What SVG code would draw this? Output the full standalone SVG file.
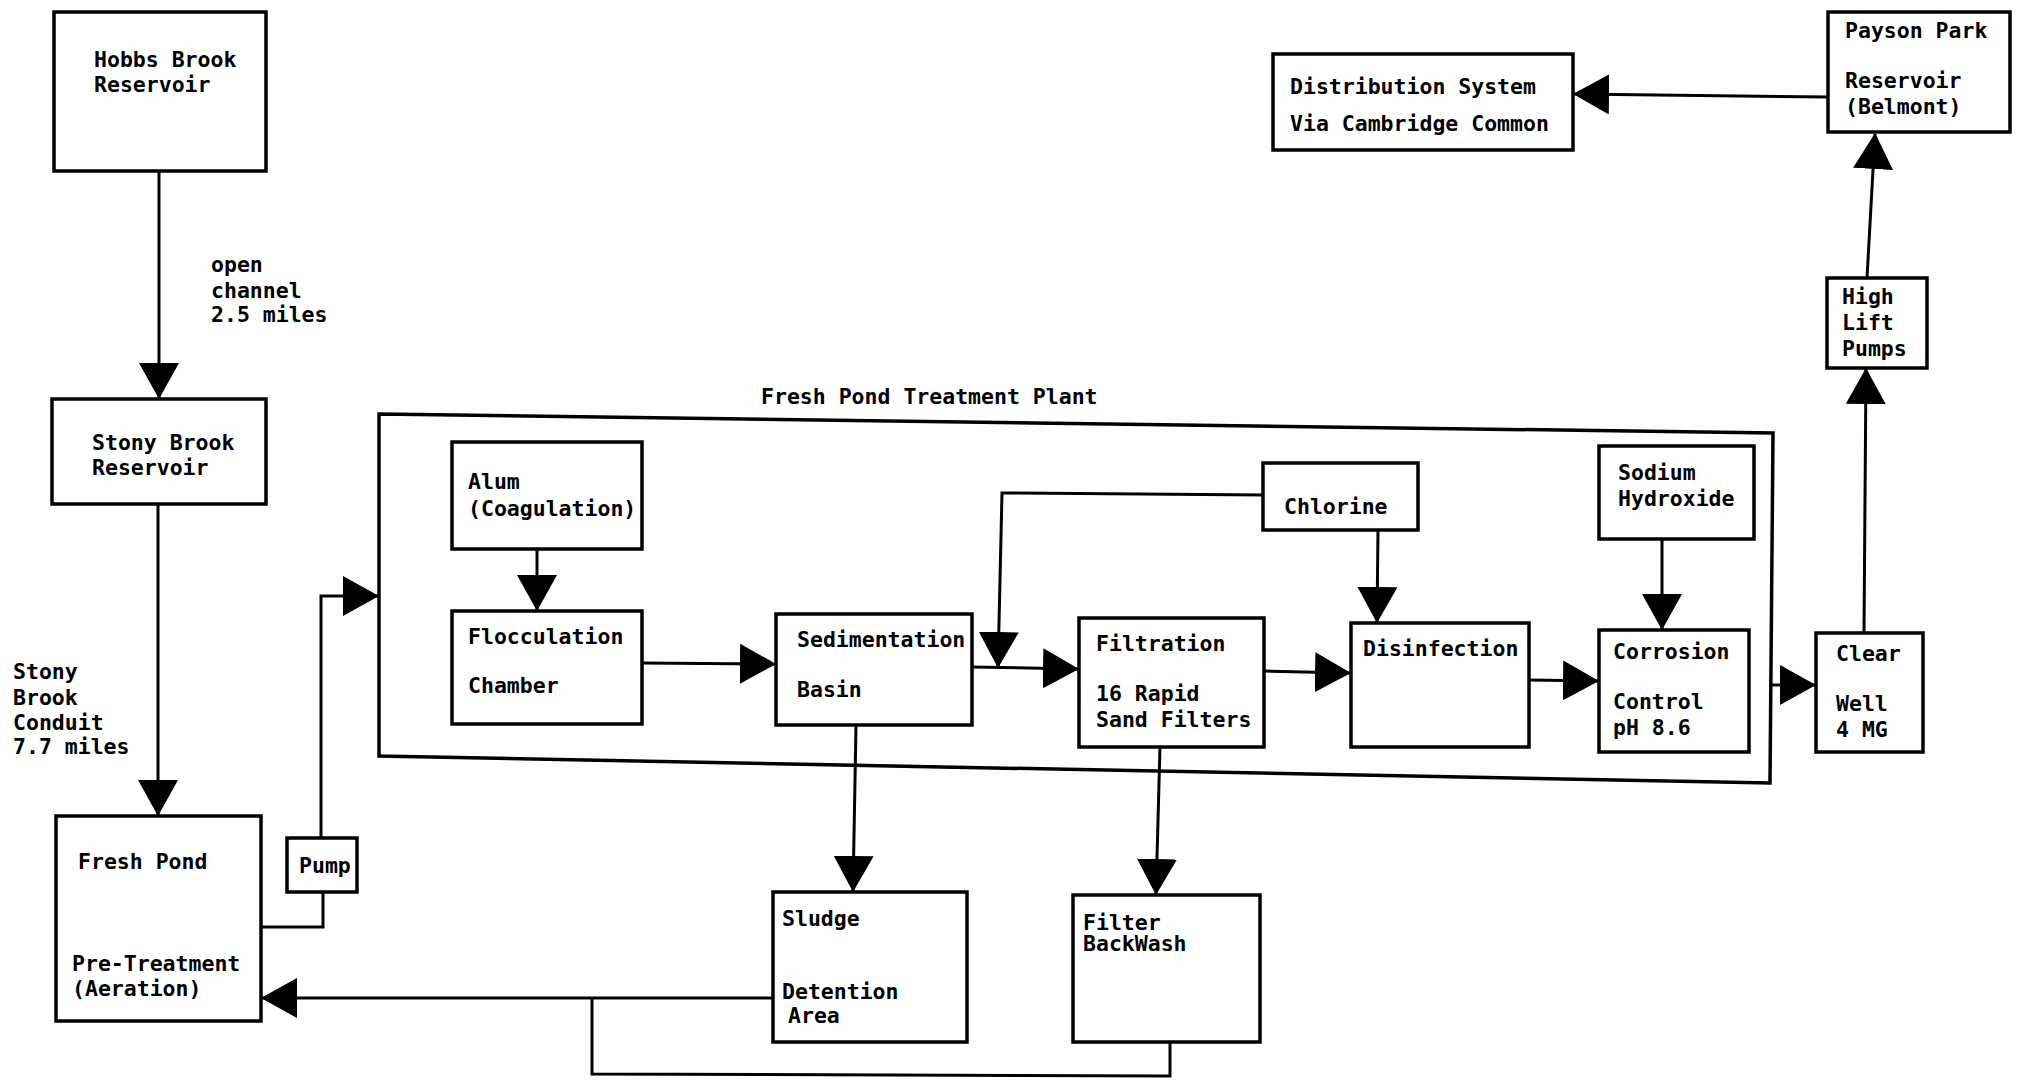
<svg xmlns="http://www.w3.org/2000/svg" width="2027" height="1081" viewBox="0 0 2027 1081">
<style>
.box{fill:#fff;stroke:#000;stroke-width:3.5}
.ln{fill:none;stroke:#000;stroke-width:3;marker-end:url(#ah)}
.ln0{fill:none;stroke:#000;stroke-width:3}
text{font-family:"DejaVu Sans Mono","Liberation Mono",monospace;font-size:21.5px;font-weight:bold;fill:#000}
</style>
<defs>
<marker id="ah" viewBox="0 0 36 40" refX="35" refY="20" markerWidth="36" markerHeight="40" markerUnits="userSpaceOnUse" orient="auto">
<path d="M0,0 L36,20 L0,40 Z" fill="#000"/>
</marker>
</defs>
<rect width="2027" height="1081" fill="#fff"/>

<g id="plant">
<polygon class="box" points="379,414 1773,433 1770,783 379,756" style="fill:none"/>
<text x="761" y="404">Fresh Pond Treatment Plant</text>
</g>

<g id="connectors">
<path class="ln" d="M159,171 L159,398"/>
<path class="ln" d="M158,504 L158,815"/>
<path class="ln0" d="M261,927 L323,927 L323,892"/>
<path class="ln" d="M321,838 L321,596 L378,596"/>
<path class="ln" d="M537,549 L537,610"/>
<path class="ln" d="M642,663 L775,664"/>
<path class="ln" d="M972,667 L1078,669"/>
<path class="ln" d="M1264,495 L1002,493 L998,667"/>
<path class="ln" d="M1264,671 L1350,673"/>
<path class="ln" d="M1378,530 L1377,622"/>
<path class="ln" d="M1529,680 L1598,681"/>
<path class="ln" d="M1662,539 L1662,629"/>
<path class="ln" d="M1771,685 L1815,685"/>
<path class="ln" d="M1864,633 L1866,369"/>
<path class="ln" d="M1867,278 L1875,134"/>
<path class="ln" d="M1828,97 L1574,94"/>
<path class="ln" d="M856,725 L853,891"/>
<path class="ln" d="M1160,747 L1156,894"/>
<path class="ln" d="M773,998 L262,998"/>
<path class="ln0" d="M592,998 L592,1074 L1170,1076 L1170,1042"/>
</g>

<g id="hobbs"><rect class="box" x="54" y="12" width="212" height="159"/>
<text x="94" y="67">Hobbs Brook</text><text x="94" y="92">Reservoir</text></g>
<g id="label-open"><text x="211" y="272">open</text><text x="211" y="298">channel</text><text x="211" y="322">2.5 miles</text></g>

<g id="stony"><rect class="box" x="52" y="399" width="214" height="105"/>
<text x="92" y="450">Stony Brook</text><text x="92" y="475">Reservoir</text></g>
<g id="label-conduit"><text x="13" y="679">Stony</text><text x="13" y="705">Brook</text><text x="13" y="730">Conduit</text><text x="13" y="754">7.7 miles</text></g>

<g id="freshpond"><rect class="box" x="56" y="816" width="205" height="205"/>
<text x="78" y="869">Fresh Pond</text><text x="72" y="971">Pre-Treatment</text><text x="72" y="996">(Aeration)</text></g>

<g id="pump"><rect class="box" x="287" y="838" width="70" height="54"/>
<text x="299" y="873">Pump</text></g>

<g id="alum"><rect class="box" x="452" y="442" width="190" height="107"/>
<text x="468" y="489">Alum</text><text x="468" y="516">(Coagulation)</text></g>

<g id="flocculation"><rect class="box" x="452" y="611" width="190" height="113"/>
<text x="468" y="644">Flocculation</text><text x="468" y="693">Chamber</text></g>

<g id="sedimentation"><rect class="box" x="776" y="614" width="196" height="111"/>
<text x="797" y="647">Sedimentation</text><text x="797" y="697">Basin</text></g>

<g id="filtration"><rect class="box" x="1079" y="618" width="185" height="129"/>
<text x="1096" y="651">Filtration</text><text x="1096" y="701">16 Rapid</text><text x="1096" y="727">Sand Filters</text></g>

<g id="chlorine"><rect class="box" x="1263" y="463" width="155" height="67"/>
<text x="1284" y="514">Chlorine</text></g>

<g id="disinfection"><rect class="box" x="1351" y="623" width="178" height="124"/>
<text x="1363" y="656">Disinfection</text></g>

<g id="sodium"><rect class="box" x="1599" y="446" width="155" height="93"/>
<text x="1618" y="480">Sodium</text><text x="1618" y="506">Hydroxide</text></g>

<g id="corrosion"><rect class="box" x="1599" y="630" width="150" height="122"/>
<text x="1613" y="659">Corrosion</text><text x="1613" y="709">Control</text><text x="1613" y="735">pH 8.6</text></g>

<g id="clearwell"><rect class="box" x="1816" y="633" width="107" height="119"/>
<text x="1836" y="661">Clear</text><text x="1836" y="711">Well</text><text x="1836" y="737">4 MG</text></g>

<g id="highlift"><rect class="box" x="1827" y="278" width="100" height="90"/>
<text x="1842" y="304">High</text><text x="1842" y="330">Lift</text><text x="1842" y="356">Pumps</text></g>

<g id="payson"><rect class="box" x="1828" y="12" width="182" height="120"/>
<text x="1845" y="38">Payson Park</text><text x="1845" y="88">Reservoir</text><text x="1845" y="114">(Belmont)</text></g>

<g id="distribution"><rect class="box" x="1273" y="54" width="300" height="96"/>
<text x="1290" y="94">Distribution System</text><text x="1290" y="131">Via Cambridge Common</text></g>

<g id="sludge"><rect class="box" x="773" y="892" width="194" height="150"/>
<text x="782" y="926">Sludge</text><text x="782" y="999">Detention</text><text x="788" y="1023">Area</text></g>

<g id="backwash"><rect class="box" x="1073" y="895" width="187" height="147"/>
<text x="1083" y="930">Filter</text><text x="1083" y="951">BackWash</text></g>
</svg>
